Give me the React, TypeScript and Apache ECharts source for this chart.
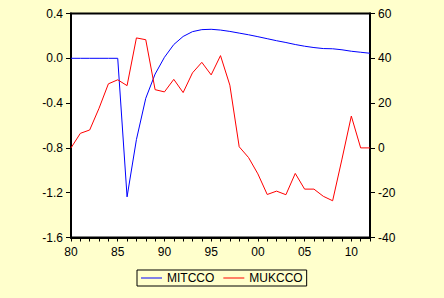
import React, { useEffect, useRef } from "react";
import * as echarts from "echarts";

const years: number[] = [
  1980, 1981, 1982, 1983, 1984, 1985, 1986, 1987, 1988, 1989, 1990, 1991,
  1992, 1993, 1994, 1995, 1996, 1997, 1998, 1999, 2000, 2001, 2002, 2003,
  2004, 2005, 2006, 2007, 2008, 2009, 2010, 2011, 2012,
];

// MITCCO (left axis)
const mitcco: number[] = [
  0, 0, 0, 0, 0, 0, -1.237, -0.726, -0.357, -0.141, 0.009, 0.123,
  0.195, 0.238, 0.256, 0.259, 0.252, 0.24, 0.225, 0.21, 0.193, 0.175, 0.157, 0.141,
  0.123, 0.108, 0.096, 0.087, 0.085, 0.076, 0.063, 0.054, 0.045,
];

// MUKCCO (right axis)
const mukcco: number[] = [
  0, 6.5, 8, 17.7, 28.6, 30.4, 27.8, 49.1, 48.3, 26, 25, 30.6,
  24.7, 33.5, 38.2, 32.6, 41.2, 28, 0.5, -4.3, -11.6, -20.8, -19.3, -20.9,
  -11.4, -18.4, -18.4, -21.6, -23.6, -5, 14.2, 0, 0,
];

const leftTicks = { min: -1.6, max: 0.4, interval: 0.4 };
const rightTicks = { min: -40, max: 60, interval: 20 };
const xRange = { min: 1980, max: 2012, interval: 1, labelEvery: 5 };

const FONT = 'Arial, "Liberation Sans", sans-serif';

export default function App() {
  const ref = useRef<HTMLDivElement>(null);

  useEffect(() => {
    document.body.style.margin = "0";
    if (!ref.current) return;
    const chart = echarts.init(ref.current, undefined, { renderer: "svg" });
    chart.setOption({
      animation: false,
      backgroundColor: "#FFFFCC",
      textStyle: { fontFamily: FONT },
      grid: {
        left: 71,
        right: 74,
        top: 13.5,
        bottom: 60.5,
        show: true,
        backgroundColor: "#FFFFFF",
        borderColor: "#000000",
        borderWidth: 2,
      },
      legend: {
        left: 137,
        top: 270,
        orient: "horizontal",
        borderColor: "#000000",
        borderWidth: 1,
        borderRadius: 0,
        padding: [2, 4, 2, 4],
        itemGap: 9,
        itemWidth: 21,
        itemHeight: 1,
        itemTextGap: 5,
        icon: "rect",
        textStyle: { fontFamily: FONT, fontSize: 12, color: "#000000" },
        data: ["MITCCO", "MUKCCO"],
      },
      xAxis: {
        type: "value",
        min: xRange.min,
        max: xRange.max,
        interval: xRange.interval,
        position: "bottom",
        axisLine: { show: true, onZero: false, lineStyle: { color: "#000", width: 2 } },
        axisTick: { show: true, length: 4, lineStyle: { color: "#000", width: 1 } },
        splitLine: { show: false },
        axisLabel: {
          fontFamily: FONT,
          fontSize: 12,
          color: "#000",
          margin: 8,
          showMinLabel: true,
          showMaxLabel: true,
          formatter: (v: number) =>
            Math.round(v) % xRange.labelEvery === 0
              ? String(Math.round(v) % 100).padStart(2, "0")
              : "",
        },
      },
      yAxis: [
        {
          type: "value",
          position: "left",
          min: leftTicks.min,
          max: leftTicks.max,
          interval: leftTicks.interval,
          axisLine: { show: true, onZero: false, lineStyle: { color: "#000", width: 2 } },
          axisTick: { show: true, length: 5, lineStyle: { color: "#000", width: 1 } },
          splitLine: { show: false },
          axisLabel: {
            fontFamily: FONT,
            fontSize: 12,
            color: "#000",
            margin: 8,
            formatter: (v: number) => v.toFixed(1),
          },
        },
        {
          type: "value",
          position: "right",
          min: rightTicks.min,
          max: rightTicks.max,
          interval: rightTicks.interval,
          axisLine: { show: true, onZero: false, lineStyle: { color: "#000", width: 2 } },
          axisTick: { show: true, length: 5, lineStyle: { color: "#000", width: 1 } },
          splitLine: { show: false },
          axisLabel: {
            fontFamily: FONT,
            fontSize: 12,
            color: "#000",
            margin: 8,
            formatter: (v: number) => String(v),
          },
        },
      ],
      series: [
        {
          name: "MITCCO",
          type: "line",
          yAxisIndex: 0,
          symbol: "none",
          color: "#0000FF",
          lineStyle: { color: "#0000FF", width: 1 },
          data: years.map((y, i) => [y, mitcco[i]]),
        },
        {
          name: "MUKCCO",
          type: "line",
          yAxisIndex: 1,
          symbol: "none",
          color: "#FF0000",
          lineStyle: { color: "#FF0000", width: 1 },
          data: years.map((y, i) => [y, mukcco[i]]),
        },
      ],
    });
    return () => chart.dispose();
  }, []);

  return <div ref={ref} style={{ width: 444, height: 298 }} />;
}
